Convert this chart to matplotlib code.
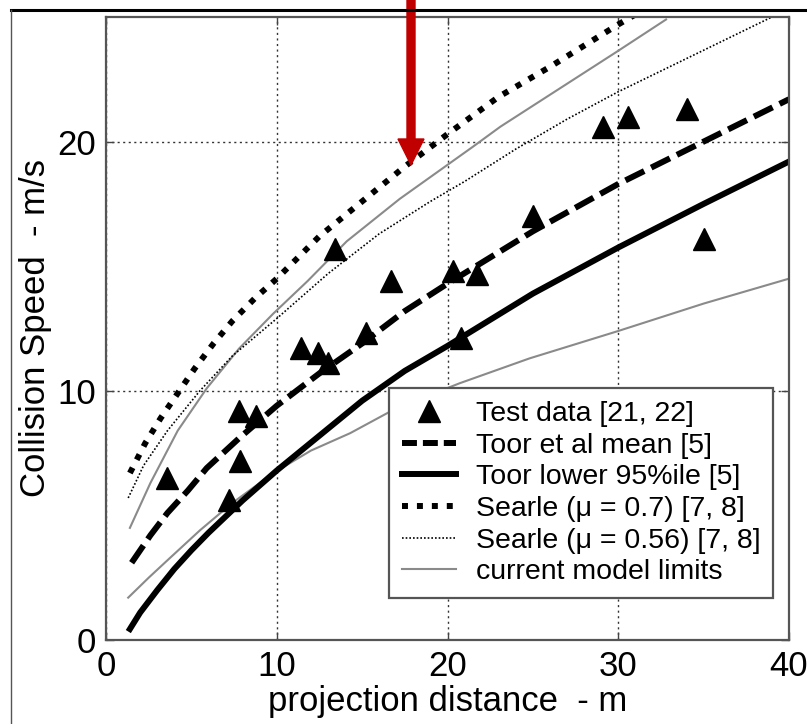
import matplotlib
matplotlib.use("Agg")
import matplotlib.pyplot as plt
import matplotlib.patches as mpatches
from matplotlib.lines import Line2D
from matplotlib.transforms import IdentityTransform

plt.rcParams['font.family'] = ['Liberation Sans', 'DejaVu Sans']

# test data [21, 22]
test_x = [3.6, 7.2, 7.85, 7.8, 8.8, 11.4, 12.4, 13.0, 13.4, 15.2, 16.7,
          20.3, 20.8, 21.7, 25.0, 29.1, 30.6, 34.0, 35.0]
test_y = [6.5, 5.6, 7.2, 9.2, 9.0, 11.7, 11.5, 11.1, 15.7, 12.3, 14.4,
          14.8, 12.1, 14.7, 17.0, 20.6, 21.0, 21.3, 16.1]

# Toor et al mean [5]
toor_mean_x = [1.5, 2.6, 3.6, 4.8, 5.9, 7.8, 10, 12.5, 15, 17.5, 20, 25, 30, 35, 40]
toor_mean_y = [3.1, 4.2, 5.1, 6.0, 6.9, 8.1, 9.4, 10.7, 11.9, 13.2, 14.3, 16.4, 18.3, 20.0, 21.7]

# Toor lower 95%ile [5]
toor_low_x = [1.4, 2, 3, 4, 5, 6, 8, 10, 12.5, 15, 17.5, 20, 25, 30, 35, 40]
toor_low_y = [0.44, 1.1, 2.0, 2.85, 3.6, 4.3, 5.6, 6.8, 8.2, 9.6, 10.8, 11.8, 13.9, 15.75, 17.5, 19.2]

# Searle mu = 0.7
searle7_x = [1.4, 2.3, 3.2, 4.2, 5.2, 6.3, 7.4, 8.7, 10, 12.5, 15, 17.5, 20, 23, 26, 30, 31]
searle7_y = [6.7, 7.9, 8.9, 9.9, 10.9, 11.9, 12.8, 13.7, 14.5, 16.2, 17.6, 19.0, 20.3, 21.8, 23.0, 24.7, 25.1]

# Searle mu = 0.56
searle56_x = [1.3, 2.2, 3.6, 5.5, 7.4, 10, 13, 16, 19, 21, 24, 27, 30, 33, 36, 39]
searle56_y = [5.7, 7.0, 8.4, 10.0, 11.4, 12.9, 14.7, 16.3, 17.6, 18.4, 19.7, 20.9, 22.0, 23.0, 24.0, 25.0]

# current model limits (upper / lower)
model_hi_x = [1.4, 2.6, 4.2, 5.9, 7.8, 9.8, 11.8, 14.1, 17.2, 21.5, 23.1, 26.5, 29.9, 32.8]
model_hi_y = [4.5, 6.3, 8.4, 10.1, 11.7, 13.1, 14.4, 16.0, 17.7, 19.8, 20.6, 22.1, 23.6, 24.9]
model_lo_x = [1.3, 2.5, 3.6, 5.5, 7.4, 9.8, 12, 14.3, 17, 20.7, 24.8, 30, 35, 40]
model_lo_y = [1.7, 2.5, 3.2, 4.4, 5.5, 6.7, 7.6, 8.3, 9.3, 10.3, 11.3, 12.4, 13.5, 14.5]

xticks = [0, 10, 20, 30, 40]
yticks = [0, 10, 20]

fig = plt.figure(figsize=(8.07, 7.24), dpi=100)
ax = fig.add_axes([106 / 807, 84 / 724, 683 / 807, 623 / 724])

ax.plot(model_hi_x, model_hi_y, color='#8a8a8a', lw=1.5)
ax.plot(model_lo_x, model_lo_y, color='#8a8a8a', lw=1.5)
ax.plot(searle56_x, searle56_y, color='k', lw=1.2, ls=(0, (1, 1.2)))
ax.plot(searle7_x, searle7_y, color='k', lw=4.3, ls=(0, (1, 1.5)))
ax.plot(toor_low_x, toor_low_y, color='k', lw=4.3)
ax.plot(toor_mean_x, toor_mean_y, color='k', lw=4.3, ls=(0, (3.5, 1.3)))
ax.plot(test_x, test_y, ls='none', marker='^', ms=15.5, color='k')

ax.set_xlim(0, 40)
ax.set_ylim(0, 25)
ax.set_xticks(xticks)
ax.set_yticks(yticks)
ax.grid(True, color='#333333', lw=1, ls=(0, (1.5, 2.5)))
ax.tick_params(direction='in', length=6, width=1, colors='#444444',
               labelcolor='k', labelsize=25, top=True, right=True, pad=7)
for s in ax.spines.values():
    s.set_color('#555555')
    s.set_linewidth(1.6)

ax.set_xlabel('projection distance  - m', fontsize=25, labelpad=2)
ax.set_ylabel('Collision Speed  - m/s', fontsize=25, labelpad=4)

handles = [
    Line2D([], [], ls='none', marker='^', ms=15.5, color='k'),
    Line2D([], [], color='k', lw=4.3, ls=(0, (2.5, 1))),
    Line2D([], [], color='k', lw=4.3),
    Line2D([], [], color='k', lw=4.3, ls=(0, (1, 1.5))),
    Line2D([], [], color='k', lw=1.2, ls=(0, (1, 1.2))),
    Line2D([], [], color='#8a8a8a', lw=1.5),
]
labels = ['Test data [21, 22]', 'Toor et al mean [5]', 'Toor lower 95%ile [5]',
          'Searle (\u03bc = 0.7) [7, 8]', 'Searle (\u03bc = 0.56) [7, 8]',
          'current model limits']
leg = ax.legend(handles, labels, loc='lower right', bbox_to_anchor=(0.977, 0.067),
                borderaxespad=0, fontsize=20.5, handlelength=1.9, handletextpad=0.7,
                labelspacing=0.2, borderpad=0.45, fancybox=False, numpoints=1,
                framealpha=1)
leg.get_frame().set_edgecolor('#555555')
leg.get_frame().set_linewidth(1.6)

# outer frame of the original figure
fig.add_artist(Line2D([11 / 807, 1], [1 - 10 / 724, 1 - 10 / 724],
                      transform=fig.transFigure, color='k', lw=2.2))
fig.add_artist(Line2D([11 / 807, 11 / 807], [0, 1 - 10 / 724],
                      transform=fig.transFigure, color='#555555', lw=1))

# red pointer arrow
fig.add_artist(mpatches.FancyArrow(411, 724, 0, -165, width=8, head_width=26,
                                   head_length=26, length_includes_head=True,
                                   color='#c00000', transform=IdentityTransform()))

fig.savefig('out.png', dpi=100)
